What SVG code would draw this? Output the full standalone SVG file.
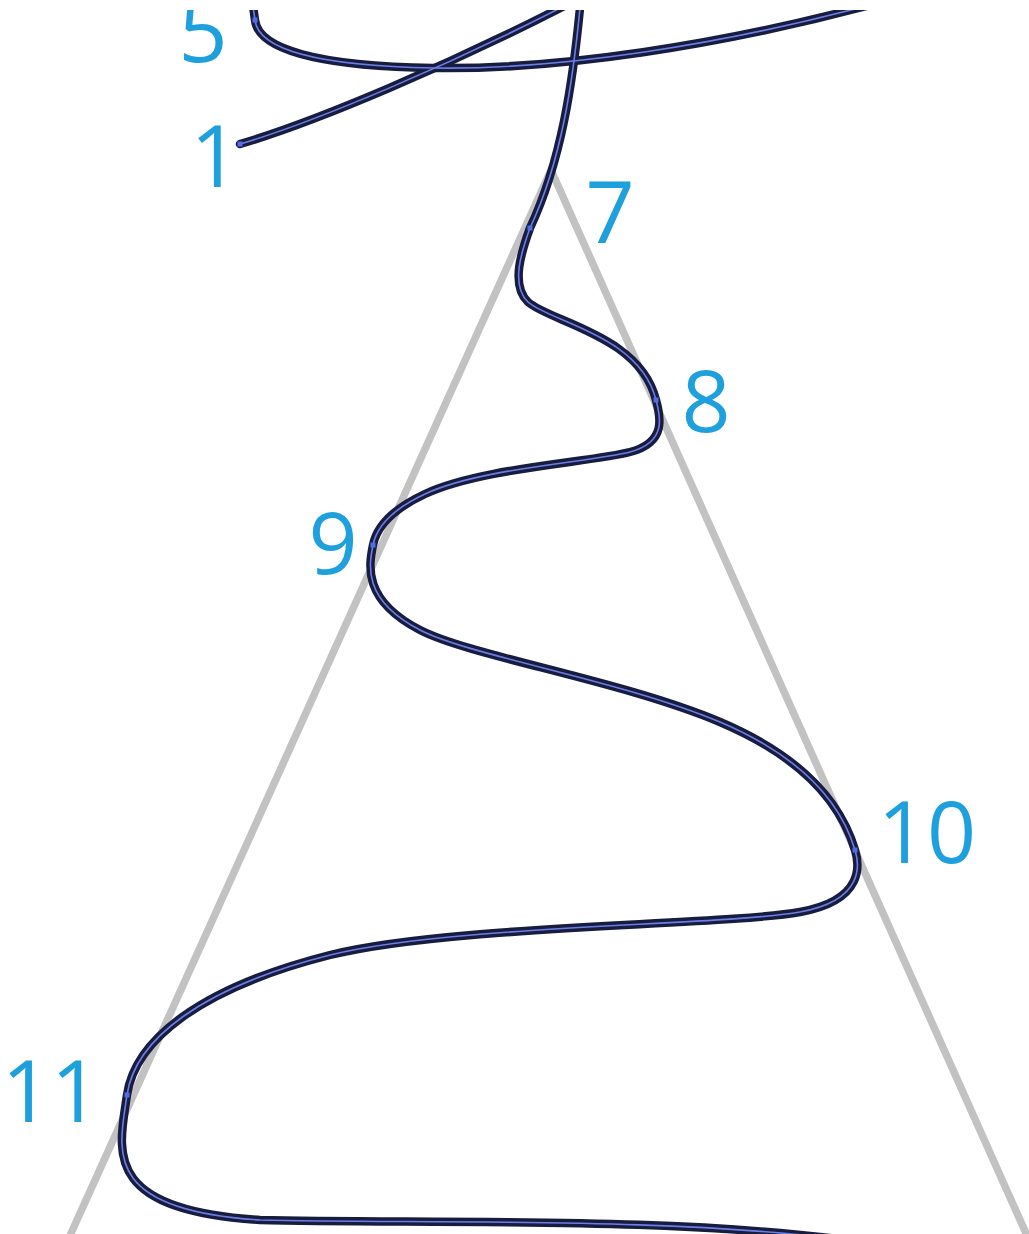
<svg xmlns="http://www.w3.org/2000/svg" width="1029" height="1234" viewBox="0 0 1029 1234">
  <defs>
    <clipPath id="frame"><rect x="0" y="10" width="1029" height="1224"/></clipPath>
    <style>
      .guide{fill:none;stroke:#c2c2c2;stroke-width:7.5;stroke-linecap:butt}
      .outer{fill:none;stroke:#181c3e;stroke-width:8.5;stroke-linecap:round;stroke-linejoin:round}
      .inner{fill:none;stroke:#6a7fe6;stroke-width:1.6;stroke-linecap:round}
      .anchor{fill:#4f6ee6}
      .num{font-family:"Open Sans","Noto Sans","Liberation Sans",sans-serif;font-size:86px;fill:#1ea0dc;text-anchor:middle}
    </style>
    <path id="pMain" d="M580,8 C573,80 562,160 530,228 C522,250 510,285 528,302 C550,322 640,335 656,400 C660,415 668,442 630,452 C592,462 480,468 425,494 C395,508 377,525 373,545 C369,565 362,600 420,630 C470,656 620,680 720,722 C800,756 840,800 855,850 C859,863 866,900 800,912 C720,926 450,925 330,955 C200,988 135,1040 127,1095 C119,1150 100,1210 260,1220 C420,1224 680,1216 860,1242"/>
    <path id="p5" d="M253,6 L255,20 C258,50 320,66 433,68 C560,70 720,45 870,5"/>
    <path id="p1" d="M240,144 C315,122 450,65 572,2"/>
  </defs>
  <g clip-path="url(#frame)">
    <g id="triangle">
      <line class="guide" x1="551" y1="170" x2="68" y2="1240"/>
      <line class="guide" x1="551" y1="170" x2="1029" y2="1240"/>
    </g>
    <g id="connectors">
      <use href="#p5" class="outer"/>
      <use href="#p1" class="outer"/>
      <use href="#pMain" class="outer"/>
      <use href="#p5" class="inner"/>
      <use href="#p1" class="inner"/>
      <use href="#pMain" class="inner"/>
    </g>
    <g id="anchors">
      <rect class="anchor" x="252.5" y="17.5" width="5" height="5"/>
      <rect class="anchor" x="237.5" y="141.5" width="5" height="5"/>
      <rect class="anchor" x="527.5" y="225.5" width="5" height="5"/>
      <rect class="anchor" x="653.5" y="397.5" width="5" height="5"/>
      <rect class="anchor" x="370.5" y="542.5" width="5" height="5"/>
      <rect class="anchor" x="852.5" y="847.5" width="5" height="5"/>
      <rect class="anchor" x="124.5" y="1092.5" width="5" height="5"/>
    </g>
    <g id="labels">
      <g id="n5"><text class="num" x="203" y="62">5</text></g>
      <g id="n1"><text class="num" x="215" y="187">1</text></g>
      <g id="n7"><text class="num" x="610" y="243">7</text></g>
      <g id="n8"><text class="num" x="706" y="432">8</text></g>
      <g id="n9"><text class="num" x="333" y="574">9</text></g>
      <g id="n10"><text class="num" x="927" y="863">10</text></g>
      <g id="n11"><text class="num" x="51" y="1122">11</text></g>
    </g>
  </g>
</svg>
